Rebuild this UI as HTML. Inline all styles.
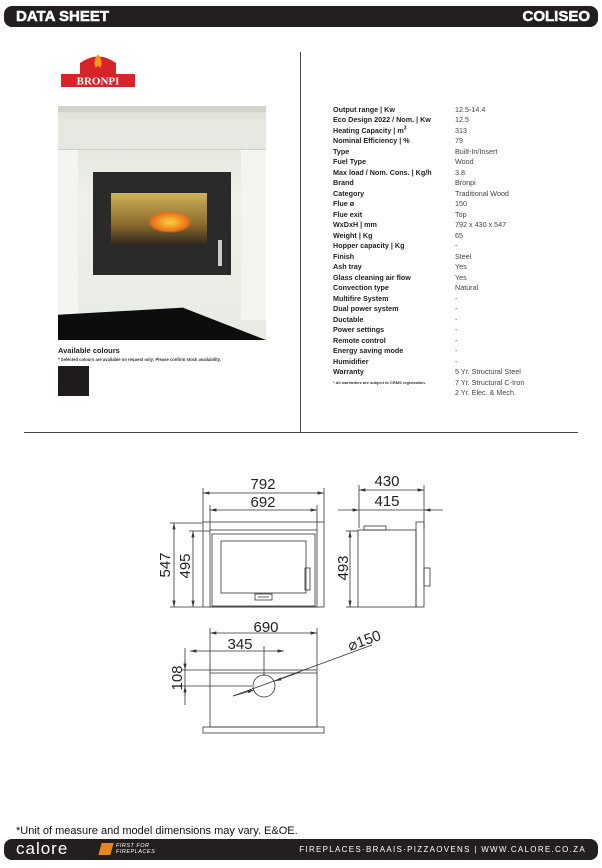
<!DOCTYPE html>
<html><head><meta charset="utf-8"><style>
body{margin:0;width:602px;height:868px;background:#fff;position:relative;font-family:"Liberation Sans",sans-serif;overflow:hidden}
.bar{position:absolute;left:4px;width:594px;background:#231f20;border-radius:8px;color:#fff}
.spec{position:absolute;font-size:7.2px;color:#222;line-height:10.48px}
.spec.l{left:333px;top:105px;font-weight:bold}
.spec.v{left:455px;top:105px;color:#444}
</style></head><body>
<div class="bar" style="top:6px;height:21px"><span style="position:absolute;left:12px;top:2px;font-weight:900;font-size:15px;-webkit-text-stroke:0.5px #fff">DATA SHEET</span><span style="position:absolute;right:8px;top:2px;font-weight:900;font-size:15px;-webkit-text-stroke:0.5px #fff">COLISEO</span></div>

<svg style="position:absolute;left:58px;top:52px" width="80" height="36">
<path d="M22 11 Q40 -2 58 11 L58 22 L22 22Z" fill="#d7232a"/>
<path d="M40 2 Q34 10 38 16 Q40 12 42 16 Q46 10 40 2Z" fill="#f39a1e"/>
<rect x="3" y="22" width="74" height="13" fill="#d7232a"/>
<text x="40" y="32.5" text-anchor="middle" font-family="Liberation Serif,serif" font-weight="bold" font-size="11" fill="#fff">BRONPI</text>
</svg>

<div style="position:absolute;left:58px;top:106px;width:208px;height:234px;background:linear-gradient(#dfe2d8,#eef0ea 40%,#e8ebe4);overflow:hidden">
<div style="position:absolute;left:0;top:0;width:208px;height:6px;background:#cfd3cc"></div>
<div style="position:absolute;left:0;top:13px;width:208px;height:30px;background:#e6e9e1;border-bottom:1px solid #cdd1c8"></div>
<div style="position:absolute;left:0;top:44px;width:20px;height:170px;background:#f4f5f1"></div>
<div style="position:absolute;left:183px;top:44px;width:25px;height:170px;background:#f4f5f1"></div>
<div style="position:absolute;left:0;top:198px;width:208px;height:36px;background:#0d0d0d;clip-path:polygon(0 30%,60% 10%,100% 100%,0 100%)"></div>
<div style="position:absolute;left:35px;top:66px;width:138px;height:103px;background:#2a2a2a"></div>
<div style="position:absolute;left:53px;top:87px;width:96px;height:53px;background:linear-gradient(#cdb25a,#8a6a2a 60%,#2a2420)"></div>
<div style="position:absolute;left:90px;top:105px;width:44px;height:22px;background:radial-gradient(#ffd23a,#e8701a 60%,transparent 70%)"></div>
<div style="position:absolute;left:160px;top:134px;width:4px;height:26px;background:#ccc"></div>
</div>

<div style="position:absolute;left:58px;top:346px;font-size:7.5px;font-weight:bold;color:#222">Available colours</div>
<div style="position:absolute;left:58px;top:357px;font-size:4.2px;font-weight:bold;color:#333">* Selected colours are available on request only; Please confirm stock availability.</div>
<div style="position:absolute;left:58px;top:366px;width:31px;height:30px;background:#1f1b1c"></div>

<div style="position:absolute;left:300px;top:52px;width:1px;height:380px;background:#444"></div>
<div style="position:absolute;left:24px;top:432px;width:554px;height:1px;background:#444"></div>

<div class="spec l">Output range | Kw<br>Eco Design 2022 / Nom. | Kw<br>Heating Capacity | m<sup style="font-size:5px;line-height:0">3</sup><br>Nominal Efficiency | %<br>Type<br>Fuel Type<br>Max load / Nom. Cons. | Kg/h<br>Brand<br>Category<br>Flue ø<br>Flue exit<br>WxDxH | mm<br>Weight | Kg<br>Hopper capacity | Kg<br>Finish<br>Ash tray<br>Glass cleaning air flow<br>Convection type<br>Multifire System<br>Dual power system<br>Ductable<br>Power settings<br>Remote control<br>Energy saving mode<br>Humidifier<br>Warranty</div>
<div style="position:absolute;left:333px;top:380px;font-size:4px;font-weight:bold;color:#333">* All warranties are subject to CRMS registration.</div>
<div class="spec v">12.5-14.4<br>12.5<br>313<br>79<br>Built-In/Insert<br>Wood<br>3.8<br>Bronpi<br>Traditional Wood<br>150<br>Top<br>792 x 430 x 547<br>65<br>-<br>Steel<br>Yes<br>Yes<br>Natural<br>-<br>-<br>-<br>-<br>-<br>-<br>-<br>5 Yr. Structural Steel<br>7 Yr. Structural C-Iron<br>2 Yr. Elec. &amp; Mech.</div>

<svg style="position:absolute;left:0;top:0" width="602" height="868" font-family="Liberation Sans,sans-serif" fill="none" stroke="#333" stroke-width="0.8">
<defs><marker id="a" markerWidth="8" markerHeight="6" refX="8" refY="3" orient="auto-start-reverse"><path d="M0 1L8 3L0 5Z" fill="#333" stroke="none"/></marker></defs>
<g fill="#222" stroke="none" font-size="15">
<text x="263" y="489" text-anchor="middle">792</text>
<text x="263" y="507" text-anchor="middle">692</text>
<text x="387" y="486" text-anchor="middle">430</text>
<text x="387" y="506" text-anchor="middle">415</text>
<text x="266" y="632" text-anchor="middle">690</text>
<text x="240" y="649" text-anchor="middle">345</text>
<text transform="translate(170,565) rotate(-90)" text-anchor="middle">547</text>
<text transform="translate(190,566) rotate(-90)" text-anchor="middle">495</text>
<text transform="translate(348,568) rotate(-90)" text-anchor="middle">493</text>
<text transform="translate(182,678) rotate(-90)" text-anchor="middle">108</text>
<text transform="translate(350,651) rotate(-20)">⌀150</text>
</g>
<line x1="203" y1="493" x2="324" y2="493" marker-start="url(#a)" marker-end="url(#a)"/>
<line x1="210" y1="510" x2="317" y2="510" marker-start="url(#a)" marker-end="url(#a)"/>
<line x1="203" y1="488" x2="203" y2="522"/><line x1="324" y1="488" x2="324" y2="522"/>
<line x1="210" y1="505" x2="210" y2="530"/><line x1="317" y1="505" x2="317" y2="530"/>
<line x1="174" y1="523" x2="174" y2="607" marker-start="url(#a)" marker-end="url(#a)"/>
<line x1="193" y1="531" x2="193" y2="607" marker-start="url(#a)" marker-end="url(#a)"/>
<line x1="170" y1="523" x2="203" y2="523"/><line x1="189" y1="531" x2="210" y2="531"/><line x1="170" y1="607" x2="203" y2="607"/>
<rect x="203" y="522" width="121" height="85"/>
<rect x="210" y="530" width="107" height="77"/>
<rect x="212" y="534" width="103" height="72"/>
<rect x="221" y="541" width="85" height="52"/>
<rect x="305" y="568" width="5" height="22"/>
<rect x="255" y="594" width="17" height="6"/>
<line x1="258" y1="597" x2="269" y2="597"/>
<line x1="359" y1="490" x2="424" y2="490" marker-start="url(#a)" marker-end="url(#a)"/>
<line x1="338" y1="510" x2="359" y2="510" marker-end="url(#a)"/>
<line x1="443" y1="510" x2="424" y2="510" marker-end="url(#a)"/>
<line x1="359" y1="510" x2="424" y2="510"/>
<line x1="359" y1="485" x2="359" y2="528"/><line x1="424" y1="485" x2="424" y2="528"/>
<line x1="350" y1="531" x2="350" y2="607" marker-start="url(#a)" marker-end="url(#a)"/>
<line x1="346" y1="531" x2="358" y2="531"/><line x1="346" y1="607" x2="358" y2="607"/>
<rect x="358" y="530" width="58" height="77"/>
<rect x="364" y="526" width="22" height="4"/>
<rect x="416" y="522" width="8" height="85"/>
<rect x="424" y="568" width="6" height="18"/>
<line x1="210" y1="633" x2="317" y2="633" marker-start="url(#a)" marker-end="url(#a)"/>
<line x1="190" y1="651" x2="284" y2="651" marker-start="url(#a)" marker-end="url(#a)"/>
<line x1="210" y1="628" x2="210" y2="670"/><line x1="317" y1="628" x2="317" y2="670"/>
<line x1="264" y1="646" x2="264" y2="676"/>
<line x1="185" y1="648" x2="185" y2="705"/>
<line x1="185" y1="660" x2="185" y2="670" marker-end="url(#a)"/>
<line x1="185" y1="696" x2="185" y2="686" marker-end="url(#a)"/>
<line x1="182" y1="670" x2="210" y2="670"/><line x1="182" y1="686" x2="252" y2="686"/>
<rect x="210" y="670" width="107" height="57"/>
<line x1="210" y1="673" x2="317" y2="673"/>
<rect x="203" y="727" width="121" height="6"/>
<circle cx="264" cy="686" r="11"/>
<line x1="233" y1="696" x2="372" y2="645"/>
<line x1="233" y1="696" x2="254" y2="690" marker-end="url(#a)"/>
<line x1="300" y1="672" x2="275" y2="681" marker-end="url(#a)"/>
</svg>

<div style="position:absolute;left:16px;top:825px;font-size:11px;color:#111">*Unit of measure and model dimensions may vary. E&amp;OE.</div>
<div class="bar" style="top:839px;height:21px">
<span style="position:absolute;left:12px;top:0px;font-size:17px;letter-spacing:1px">calore</span>
<span style="position:absolute;left:96px;top:4px;width:12px;height:12px;background:#e8851c;transform:skewX(-15deg)"></span>
<span style="position:absolute;left:112px;top:4px;font-size:5.5px;line-height:6px;font-style:italic;letter-spacing:.5px">FIRST FOR<br>FIREPLACES</span>
<span style="position:absolute;right:12px;top:6px;font-size:8px;letter-spacing:1.3px">FIREPLACES·BRAAIS·PIZZAOVENS | WWW.CALORE.CO.ZA</span>
</div>
</body></html>
